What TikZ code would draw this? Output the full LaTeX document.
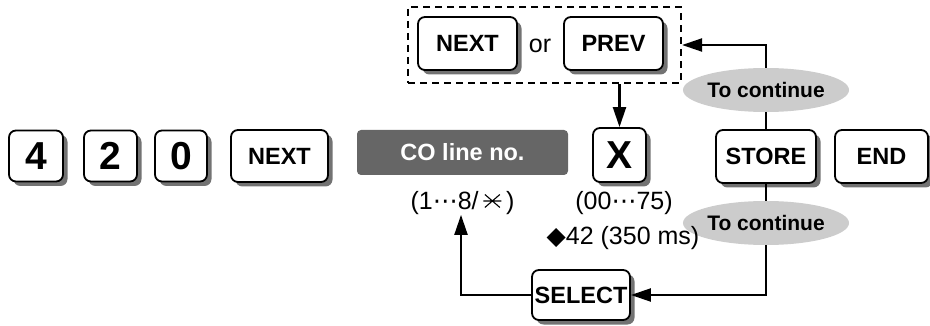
\documentclass[tikz,border=0pt]{standalone}
\usepackage{fontspec}
\setmainfont{Liberation Sans}
\newfontfamily\dejavu{DejaVu Sans}
\usetikzlibrary{shapes.geometric,shadows,arrows.meta,calc}
\newcommand\sextilestar{\tikz[x=1pt,y=1pt,baseline={(0,-8.5pt)},line width=1.1pt]{\draw (-9,0)--(9,0) (-7.5,-6.5)--(7.5,6.5) (-7.5,6.5)--(7.5,-6.5);}}
\begin{document}
\begin{tikzpicture}[x=1pt,y=-1pt,
  keybox/.style={draw, line width=1.8pt, rounded corners=7pt, fill=white, inner sep=0pt,
    drop shadow={shadow xshift=4.5pt, shadow yshift=-4.5pt, fill=black!55, opacity=1},
    font=\fontsize{23.5}{25}\selectfont\bfseries},
  digitkey/.style={keybox, font=\fontsize{39}{42}\selectfont\bfseries},
  graybox/.style={fill=black!60, rounded corners=4pt, text=white, inner sep=0pt,
    font=\fontsize{23.5}{25}\selectfont\bfseries},
  contoval/.style={ellipse, fill=black!20, inner sep=0pt, minimum width=144pt, minimum height=44pt,
    font=\fontsize{21}{23}\selectfont\bfseries},
  plain/.style={font=\fontsize{25}{27}\selectfont, inner sep=0pt},
  dashbox/.style={draw, line width=2.2pt, dash pattern=on 7pt off 5pt, inner sep=0pt},
  conn/.style={line width=2.2pt},
  arr/.style={conn, -{Triangle[length=20pt,width=13pt]}}
]
\useasboundingbox (0,0) rectangle (930,326);
% first row keys
\node[digitkey, minimum width=54pt, minimum height=51pt] (k4) at (36,156) {4};
\node[digitkey, minimum width=53pt, minimum height=51pt] (k2) at (110.5,156) {2};
\node[digitkey, minimum width=52pt, minimum height=51pt] (k0) at (181,156) {0};
\node[keybox, minimum width=97pt, minimum height=52pt] (next1) at (279.5,156) {NEXT};
\node[graybox, minimum width=211pt, minimum height=45pt] (co) at (462.5,152.5) {CO line no.};
\node[digitkey, minimum width=53pt, minimum height=54pt] (kx) at (619.5,155) {X};
\node[keybox, minimum width=100pt, minimum height=53pt] (store) at (766,156.5) {STORE};
\node[keybox, minimum width=93pt, minimum height=53pt] (endk) at (881.5,156.5) {END};
% top group
\node[dashbox, minimum width=273pt, minimum height=76pt] (dbox) at (544.5,45) {};
\node[keybox, minimum width=99pt, minimum height=53pt] (next2) at (467.5,43.5) {NEXT};
\node[plain] (orl) at (540,46) {or};
\node[keybox, minimum width=99pt, minimum height=53pt] (prev) at (613.5,43.5) {PREV};
% ovals
\node[contoval] (ell1) at (766,90) {To continue};
\node[contoval] (ell2) at (766,223) {To continue};
% texts
\node[plain] (t1) at (462.5,203) {(1{\dejavu ⋯}8/\,\sextilestar\,)};
\node[plain] (t2) at (624,203) {(00{\dejavu ⋯}75)};
\node[plain] (t3) at (623,238) {{\dejavu ◆}42 (350 ms)};
% select
\node[keybox, minimum width=98pt, minimum height=50pt] (sel) at (581,295) {SELECT};
% connectors
\draw[arr] (kx.north |- dbox.south) -- (kx.north);
\draw[conn] (store.north) -- (ell1.south);
\draw[arr] (ell1.north) |- (dbox.east);
\draw[conn] (store.south) -- (ell2.north);
\draw[arr] (ell2.south) |- (sel.east);
\draw[arr] (sel.west) -| ([xshift=-1.5pt]t1.south);
\end{tikzpicture}
\end{document}
